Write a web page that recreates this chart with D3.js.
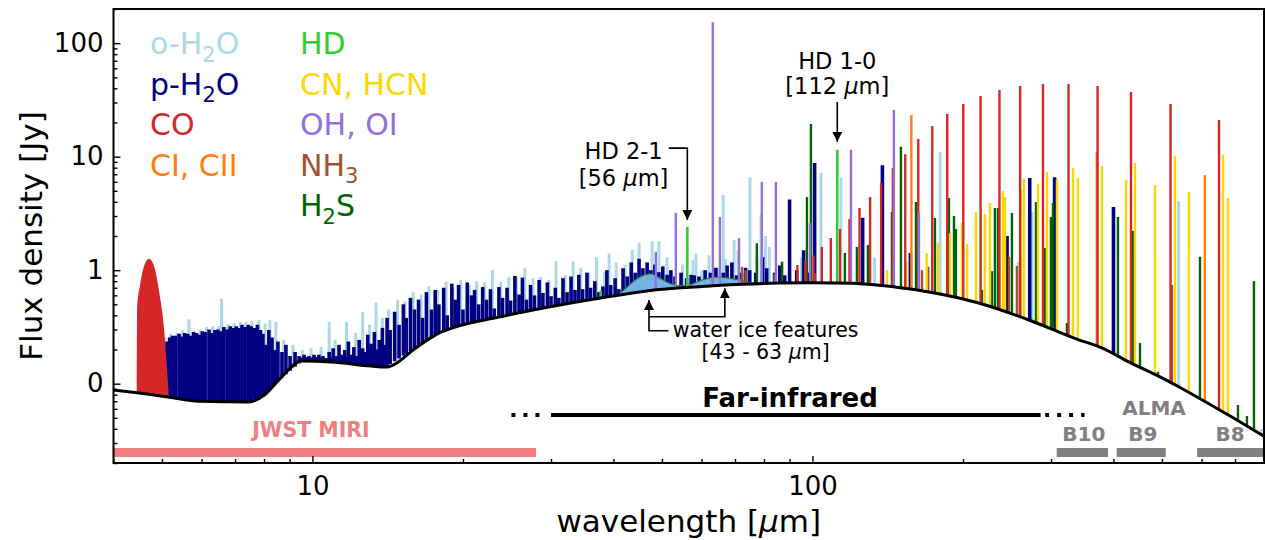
<!DOCTYPE html>
<html lang="en">
<head>
<meta charset="UTF-8">
<script src="https://d3js.org/d3.v7.min.js"></script>
<title>Disk spectrum</title>
<style>
  body { margin: 0; background: #fff; }
  svg text { font-family: "DejaVu Sans", sans-serif; }
</style>
</head>
<body>
<svg id="chart" width="1265" height="540"></svg>
<script>
// ---- data: wavelength [micron], flux density [Jy] ----
const contLam = [3.98, 4.46, 5.16, 5.93, 7.46, 8.0, 8.57, 9.52, 10.9, 13.1, 14.0, 16.3, 17.9, 19.0, 23.6, 29.7, 37.4, 47, 59.3, 72, 86, 100, 120, 136, 150, 171, 215, 271, 341, 376, 430, 509, 541, 690, 800];
const contFlux = [0.088, 0.083, 0.076, 0.070, 0.069, 0.079, 0.108, 0.158, 0.155, 0.143, 0.140, 0.215, 0.279, 0.309, 0.386, 0.473, 0.565, 0.66, 0.715, 0.75, 0.77, 0.775, 0.765, 0.735, 0.70, 0.643, 0.514, 0.364, 0.243, 0.21, 0.155, 0.108, 0.0935, 0.0508, 0.0345];

// CO fundamental band near 4.7 micron
const coBandLam = [4.45, 4.46, 4.52, 4.60, 4.71, 4.82, 4.93, 5.05, 5.12, 5.16];
const coBandFlux = [0.083, 0.47, 0.74, 1.07, 1.26, 1.09, 0.67, 0.30, 0.132, 0.076];

// water ice features
const iceLam = [40.6, 42.0, 43.9, 45.9, 47.4, 49.3, 51.6, 54.1, 56.6, 59.3, 62.1, 65.0, 68.0, 71.3, 74.6, 78.2];
const iceFlux = [0.58, 0.67, 0.80, 0.90, 0.93, 0.86, 0.77, 0.73, 0.74, 0.80, 0.85, 0.87, 0.85, 0.82, 0.78, 0.76];

// line peaks [wavelength, peak flux]
const oH2O = [[5.07,0.255],[5.21,0.275],[5.36,0.28],[5.50,0.297],[5.66,0.37],[5.80,0.29],[5.96,0.30],[6.14,0.315],[6.32,0.32],[6.50,0.32],[6.58,0.56],[6.78,0.335],[6.97,0.34],[7.17,0.35],[7.36,0.35],[7.57,0.355],[7.82,0.364],[8.04,0.34],[8.22,0.364],[8.45,0.35],[8.76,0.243],[9.14,0.22],[9.54,0.198],[9.93,0.205],[10.4,0.21],[10.8,0.35],[11.1,0.243],[11.7,0.35],[12.2,0.28],[12.6,0.43],[13.0,0.33],[13.4,0.52],[13.8,0.38],[14.2,0.45],[14.8,0.55],[15.3,0.53],[15.9,0.64],[16.5,0.61],[17.1,0.72],[17.8,0.67],[18.5,0.79],[19.1,0.71],[19.8,0.82],[20.6,0.74],[21.3,0.80],[22.1,0.78],[22.9,1.0],[23.8,0.79],[24.7,0.87],[25.6,0.86],[26.6,1.05],[27.6,0.85],[28.6,0.87],[29.7,0.82],[30.7,1.2],[32.0,0.91],[33.2,1.2],[34.4,1.05],[35.7,0.95],[37.0,1.3],[38.4,0.97],[39.2,1.4],[40.5,1.17],[42.2,1.12],[43.6,1.51],[45.0,1.74],[47.8,1.80],[49.3,1.80],[51.2,1.30],[55.0,1.12],[57.7,1.23],[58.5,1.4],[60.1,1.00],[62.1,1.35],[64.6,1.04],[66.3,4.6],[67.0,1.25],[69.7,1.85],[71.0,1.5],[75.0,6.6],[77.5,1.3],[78.9,3.1],[80.5,2.0],[82,1.60],[87,1.2],[95,1.3],[104,7.2],[114,6.6],[133,1.29],[180,11.0],[258,1.18],[275,3.25],[540,4.07],[790,0.04]];
const pH2O = [[5.05,0.22],[5.12,0.235],[5.18,0.255],[5.25,0.265],[5.32,0.265],[5.41,0.275],[5.48,0.26],[5.55,0.28],[5.63,0.275],[5.70,0.265],[5.78,0.285],[5.86,0.28],[5.94,0.27],[6.02,0.29],[6.10,0.285],[6.21,0.30],[6.29,0.28],[6.38,0.297],[6.47,0.30],[6.56,0.29],[6.65,0.315],[6.75,0.30],[6.85,0.32],[6.94,0.31],[7.04,0.32],[7.13,0.31],[7.23,0.33],[7.33,0.315],[7.44,0.33],[7.54,0.32],[7.65,0.31],[7.76,0.33],[7.87,0.297],[7.96,0.275],[8.07,0.22],[8.18,0.297],[8.30,0.255],[8.41,0.198],[8.53,0.235],[8.69,0.19],[8.85,0.22],[9.02,0.175],[9.23,0.19],[9.40,0.175],[9.50,0.17],[9.62,0.18],[9.73,0.172],[9.84,0.175],[9.95,0.17],[10.07,0.18],[10.18,0.172],[10.3,0.18],[10.4,0.17],[10.5,0.175],[10.65,0.168],[10.8,0.19],[10.9,0.17],[11.0,0.205],[11.15,0.175],[11.3,0.22],[11.45,0.18],[11.6,0.198],[11.7,0.17],[11.8,0.235],[11.95,0.18],[12.1,0.21],[12.25,0.175],[12.4,0.243],[12.5,0.18],[12.6,0.205],[12.75,0.19],[12.9,0.27],[13.0,0.2],[13.1,0.225],[13.2,0.19],[13.3,0.285],[13.45,0.2],[13.6,0.243],[13.7,0.21],[13.8,0.31],[13.95,0.22],[14.1,0.38],[14.3,0.297],[14.6,0.43],[14.9,0.33],[15.2,0.50],[15.4,0.38],[15.7,0.57],[16.0,0.45],[16.3,0.55],[16.6,0.38],[16.9,0.64],[17.3,0.45],[17.6,0.67],[17.9,0.50],[18.3,0.70],[18.6,0.40],[19.0,0.76],[19.3,0.55],[19.6,0.74],[20.0,0.45],[20.4,0.78],[20.8,0.60],[21.1,0.67],[21.5,0.50],[21.9,0.71],[22.3,0.55],[22.7,0.68],[23.1,0.46],[23.6,0.71],[24.0,0.57],[24.5,0.70],[24.9,0.54],[25.4,0.89],[25.9,0.61],[26.3,0.86],[26.8,0.55],[27.3,0.74],[27.8,0.60],[28.4,0.82],[28.9,0.63],[29.5,0.78],[30.0,0.59],[30.6,0.70],[31.1,0.57],[31.7,0.85],[32.3,0.64],[32.9,0.88],[33.5,0.67],[34.1,0.91],[34.7,0.68],[35.4,0.95],[36.0,0.70],[36.7,0.80],[37.4,0.64],[38.1,0.72],[38.8,1.00],[39.5,0.74],[40.3,0.85],[41.0,0.68],[41.8,1.04],[42.6,0.88],[43.4,1.17],[44.2,0.95],[45.0,1.26],[45.8,1.04],[46.7,1.17],[47.5,1.00],[48.4,1.12],[49.3,0.96],[50.2,1.08],[51.2,0.91],[52.1,1.00],[53.1,0.88],[54.6,0.95],[56,0.85],[57.2,0.91],[58,0.9],[59.3,0.88],[61.0,1.00],[62.5,0.95],[64.1,1.05],[66.3,0.95],[67.5,1.1],[69.0,1.17],[70.5,0.9],[72.1,0.95],[73.5,1.05],[74.9,1.00],[77,0.95],[79.5,1.3],[81,1.04],[84,0.95],[86,1.1],[88,0.9],[90,4.2],[93,1.0],[96,1.5],[98,0.95],[101,8.8],[126,2.9],[138,8.4],[157,1.42],[245,2.0],[272,6.5],[305,6.6],[400,3.6]];
const coLines = [[93.3,1.11],[96.8,1.2],[100.5,1.35],[104.4,1.60],[108.8,1.92],[113.5,2.30],[118.6,2.82],[124.2,3.53],[130.4,4.42],[137.2,5.86],[144.8,7.94],[153.3,10.5],[162.8,14.3],[173.6,18.6],[186.0,23.8],[200.3,29.1],[216.9,34.2],[236.6,38.6],[260.2,42.0],[289.1,43.7],[325.2,43.7],[371.7,42.0],[433.6,37.1],[520.2,29.1],[650.3,21.0]];
const ciLines = [[157.7,23.3],[370.4,11.0],[609.1,6.9]];
const hdLines = [[37.7,0.66],[56.2,2.40],[112.1,11.5]];
const cnLines = [[141,1.0],[154,1.18],[169.2,1.42],[178.2,1.73],[188.4,2.12],[199.1,2.61],[203.7,1.70],[212.3,3.25],[221.3,3.12],[226.5,3.91],[240.4,4.98],[242.7,4.42],[261.2,5.08],[264.8,6.36],[282.5,5.74],[294.4,7.33],[308.3,6.22],[331.9,7.94],[339.6,6.5],[379.3,8.28],[423.6,6.22],[441.6,8.8],[484.2,5.62],[530.9,10.1],[566.2,4.89],[662.2,10.4],[677.6,4.32]];
const ohLines = [[48.6,1.45],[53.3,3.19],[63.2,153],[65.3,2.94],[71.3,1.92],[79.2,5.98],[84.5,5.98],[98.9,2.6],[119.4,11.5],[145.5,25.8],[163.3,3.19]];
const nh3Lines = [[72.3,1.07],[73.5,1.0],[84.0,0.92],[101,0.94],[165.6,1.0],[170.4,1.07],[247.2,1.31],[256.4,1.09],[523.6,0.74]];
const h2sLines = [[77.4,1.73],[86.9,1.18],[97.5,4.42],[99.3,19.4],[116.1,1.42],[122.7,1.60],[129.1,1.67],[144.2,3.25],[150.3,12.2],[161.1,3.99],[175.8,2.88],[187.5,4.32],[191.9,3.0],[193.6,2.31],[218.3,0.67],[228.6,0.98],[231.7,3.53],[235.0,3.53],[250.6,3.19],[279.9,3.99],[291.7,1.57],[299.9,2.94],[302.7,3.91],[322.8,0.342],[408.3,2.94],[437.5,2.21],[451.9,0.228],[490.9,0.127],[595.7,1.31],[709.6,0.0649],[739.6,0.0519],[763.8,0.80]];

// instrument coverage [from, to]
const miriRange = [4, 28];
const firRange = [30, 286];
const firDots = [[25, 29.5], [292, 350]];
const almaBands = ['B10', 'B9', 'B8'];
const almaRanges = [[308, 390], [406, 509], [588, 800]];

// legend
const legendCol1 = ['o-H_2O', 'p-H_2O', 'CO', 'CI, CII'];
const legendCol1Colors = ['#add8e6', '#000080', '#d62728', '#ff7f0e'];
const legendCol2 = ['HD', 'CN, HCN', 'OH, OI', 'NH_3', 'H_2S'];
const legendCol2Colors = ['#32cd32', '#ffd700', '#9370db', '#a0522d', '#006400'];

// ---- chart ----
const svg = d3.select('#chart');
const plot = { left: 113.5, right: 1264, top: 9, bottom: 463 };

const x = d3.scaleLog().domain([4, 800]).range([plot.left, plot.right]);
const y = d3.scaleLog().domain([0.02, 200]).range([plot.bottom, plot.top]);

// continuum level (log-log piecewise) used as the base of every line
const contLog = d3.scaleLog().domain(contLam).range(contFlux.map(Math.log10)).clamp(true);
const cont = lam => Math.pow(10, contLog(lam));

const defs = svg.append('defs');
defs.append('clipPath').attr('id', 'plotClip')
    .append('rect')
    .attr('x', plot.left).attr('y', plot.top)
    .attr('width', plot.right - plot.left).attr('height', plot.bottom - plot.top);
defs.append('marker')
    .attr('id', 'arrow').attr('viewBox', '0 0 10 10')
    .attr('refX', 10).attr('refY', 5)
    .attr('markerWidth', 10).attr('markerHeight', 10)
    .attr('markerUnits', 'userSpaceOnUse').attr('orient', 'auto')
    .append('path').attr('d', 'M0,0L10,5L0,10z').attr('fill', '#000');

svg.append('rect').attr('width', 1265).attr('height', 540).attr('fill', '#fff');

const g = svg.append('g').attr('clip-path', 'url(#plotClip)');

function drawLines(data, color, width) {
    g.append('g').selectAll('line')
        .data(data).join('line')
        .attr('x1', d => x(d[0])).attr('x2', d => x(d[0]))
        .attr('y1', d => y(cont(d[0])))
        .attr('y2', d => y(Math.max(d[1], cont(d[0]))))
        .attr('stroke', color)
        .attr('stroke-width', width);
}

// water forest
drawLines(oH2O, '#add8e6', 3);
drawLines(pH2O, '#000080', 3.6);

// ice features
const iceData = iceLam.map((l, i) => [l, iceFlux[i]]);
g.append('path')
    .datum(iceData)
    .attr('d', d3.area()
        .x(d => x(d[0]))
        .y0(d => y(cont(d[0])))
        .y1(d => y(Math.max(d[1], cont(d[0]))))
        .curve(d3.curveMonotoneX))
    .attr('fill', '#78bbe8')
    .attr('fill-opacity', 0.95);
g.append('path')
    .datum(iceData)
    .attr('d', d3.line()
        .x(d => x(d[0]))
        .y(d => y(Math.max(d[1], cont(d[0]))))
        .curve(d3.curveMonotoneX))
    .attr('fill', 'none')
    .attr('stroke', '#2e7d32')
    .attr('stroke-width', 1.2);

// other species
drawLines(nh3Lines, '#a0522d', 2.4);
drawLines(h2sLines, '#006400', 2.4);
drawLines(cnLines, '#ffd700', 2.4);
drawLines(ciLines, '#ff7f0e', 2.4);
drawLines(coLines, '#d62728', 2.4);
drawLines(ohLines, '#9370db', 2.4);
drawLines(hdLines, '#32cd32', 2.6);

// CO band
const coData = coBandLam.map((l, i) => [l, coBandFlux[i]]);
g.append('path')
    .datum(coData)
    .attr('d', d3.area()
        .x(d => x(d[0]))
        .y0(d => y(cont(d[0])))
        .y1(d => y(Math.max(d[1], cont(d[0]))))
        .curve(d3.curveMonotoneX))
    .attr('fill', '#d62728');

// continuum
g.append('path')
    .datum(contLam.map((l, i) => [l, contFlux[i]]))
    .attr('d', d3.line().x(d => x(d[0])).y(d => y(d[1])).curve(d3.curveMonotoneX))
    .attr('fill', 'none')
    .attr('stroke', '#000')
    .attr('stroke-width', 3);

// ---- coverage bars ----
const barY = y(0.0248);
g.append('line')
    .attr('x1', x(miriRange[0])).attr('x2', x(miriRange[1]))
    .attr('y1', barY).attr('y2', barY)
    .attr('stroke', '#f08080').attr('stroke-width', 9);
g.selectAll('.alma').data(almaRanges).join('line')
    .attr('class', 'alma')
    .attr('x1', d => x(d[0])).attr('x2', d => x(d[1]))
    .attr('y1', barY).attr('y2', barY)
    .attr('stroke', '#808080').attr('stroke-width', 9);

const firY = y(0.053);
g.append('line')
    .attr('x1', x(firRange[0])).attr('x2', x(firRange[1]))
    .attr('y1', firY).attr('y2', firY)
    .attr('stroke', '#000').attr('stroke-width', 4);
g.selectAll('.firdots').data(firDots).join('line')
    .attr('class', 'firdots')
    .attr('x1', d => x(d[0])).attr('x2', d => x(d[1]))
    .attr('y1', firY).attr('y2', firY)
    .attr('stroke', '#000').attr('stroke-width', 4)
    .attr('stroke-dasharray', '4,8');

// ---- text helper (subscripts and italic mu) ----
function richText(parent, str, x0, y0, size, opts = {}) {
    const t = parent.append('text')
        .attr('x', x0).attr('y', y0)
        .attr('font-size', size)
        .attr('text-anchor', opts.anchor || 'start')
        .attr('fill', opts.color || '#000')
        .attr('font-weight', opts.weight || 'normal');
    if (opts.rotate) t.attr('transform', `rotate(${opts.rotate},${x0},${y0})`);
    let down = 0;
    str.split(/(_\d|µ)/).filter(s => s.length).forEach(part => {
        const ts = t.append('tspan');
        if (part[0] === '_') {
            ts.attr('dy', size * 0.25 - down).attr('font-size', size * 0.7).text(part.slice(1));
            down = size * 0.25;
        } else {
            if (down) { ts.attr('dy', -down); down = 0; }
            if (part === 'µ') ts.attr('font-style', 'italic');
            ts.text(part);
        }
    });
    return t;
}

const ann = svg.append('g');
richText(ann, 'JWST MIRI', x(9.93), y(0.0339), 20.5, { anchor: 'middle', color: '#f08080', weight: 'bold' });
richText(ann, 'Far-infrared', x(90.2), y(0.0622), 26, { anchor: 'middle', weight: 'bold' });
richText(ann, 'ALMA', x(482), y(0.053), 20, { anchor: 'middle', color: '#808080', weight: 'bold' });
const almaLabelLam = [349, 458, 684];
almaBands.forEach((b, i) => {
    richText(ann, b, x(almaLabelLam[i]), y(0.0313), 20, { anchor: 'middle', color: '#808080', weight: 'bold' });
});

// HD 2-1
richText(ann, 'HD 2-1', x(41.9), y(9.54), 22.5, { anchor: 'middle' });
richText(ann, '[56 µm]', x(41.9), y(5.52), 22.5, { anchor: 'middle' });
ann.append('path')
    .attr('d', `M${x(51.6)},${y(11.9)}H${x(56.2)}V${y(2.77)}`)
    .attr('fill', 'none').attr('stroke', '#000').attr('stroke-width', 1.6)
    .attr('marker-end', 'url(#arrow)');

// HD 1-0
richText(ann, 'HD 1-0', x(112.1), y(59.2), 22.5, { anchor: 'middle' });
richText(ann, '[112 µm]', x(112.1), y(35.7), 22.5, { anchor: 'middle' });
ann.append('path')
    .attr('d', `M${x(112.1)},${y(30.3)}V${y(13.5)}`)
    .attr('fill', 'none').attr('stroke', '#000').attr('stroke-width', 1.6)
    .attr('marker-end', 'url(#arrow)');

// water ice
richText(ann, 'water ice features', x(80.6), y(0.258), 20.5, { anchor: 'middle' });
richText(ann, '[43 - 63 µm]', x(80.6), y(0.165), 20.5, { anchor: 'middle' });
ann.append('path')
    .attr('d', `M${x(51.5)},${y(0.293)}H${x(47.1)}V${y(0.546)}`)
    .attr('fill', 'none').attr('stroke', '#000').attr('stroke-width', 1.6)
    .attr('marker-end', 'url(#arrow)');
ann.append('path')
    .attr('d', `M${x(47.1)},${y(0.389)}H${x(66.8)}V${y(0.692)}`)
    .attr('fill', 'none').attr('stroke', '#000').attr('stroke-width', 1.6)
    .attr('marker-end', 'url(#arrow)');

// ---- legend ----
const legend = svg.append('g');
legendCol1.forEach((s, i) => richText(legend, s, 150, 54 + i * 40.6, 30, { color: legendCol1Colors[i] }));
legendCol2.forEach((s, i) => richText(legend, s, 300, 54 + i * 40.6, 30, { color: legendCol2Colors[i] }));

// ---- axes ----
const isMajor = v => Math.abs(Math.log10(v) - Math.round(Math.log10(v))) < 1e-6;
const xTicks = x.ticks();
const yTicks = y.ticks();

function styleAxis(sel) {
    sel.select('.domain').remove();
    sel.attr('font-family', '"DejaVu Sans", sans-serif').attr('font-size', 26);
    sel.selectAll('.tick line').attr('stroke', '#000').attr('stroke-width', 1.4);
    sel.selectAll('.tick text').attr('fill', '#000');
}

svg.append('g').attr('transform', `translate(0,${plot.bottom})`)
    .call(d3.axisBottom(x).tickValues(xTicks.filter(isMajor)).tickSize(-7).tickPadding(14).tickFormat(d3.format('d')))
    .call(styleAxis);
svg.append('g').attr('transform', `translate(0,${plot.bottom})`)
    .call(d3.axisBottom(x).tickValues(xTicks.filter(v => !isMajor(v))).tickSize(-4).tickFormat(''))
    .call(styleAxis);
svg.append('g').attr('transform', `translate(${plot.left},0)`)
    .call(d3.axisLeft(y).tickValues(yTicks.filter(isMajor)).tickSize(-7).tickPadding(10).tickFormat(d3.format('d')))
    .call(styleAxis);
svg.append('g').attr('transform', `translate(${plot.left},0)`)
    .call(d3.axisLeft(y).tickValues(yTicks.filter(v => !isMajor(v))).tickSize(-4).tickFormat(''))
    .call(styleAxis);

// frame
svg.append('rect')
    .attr('x', plot.left).attr('y', plot.top)
    .attr('width', plot.right - plot.left).attr('height', plot.bottom - plot.top)
    .attr('fill', 'none').attr('stroke', '#000').attr('stroke-width', 2);

// axis labels
richText(svg, 'wavelength [µm]', (plot.left + plot.right) / 2, 532, 31, { anchor: 'middle' });
richText(svg, 'Flux density [Jy]', 42, (plot.top + plot.bottom) / 2, 31, { anchor: 'middle', rotate: -90 });
</script>
</body>
</html>
